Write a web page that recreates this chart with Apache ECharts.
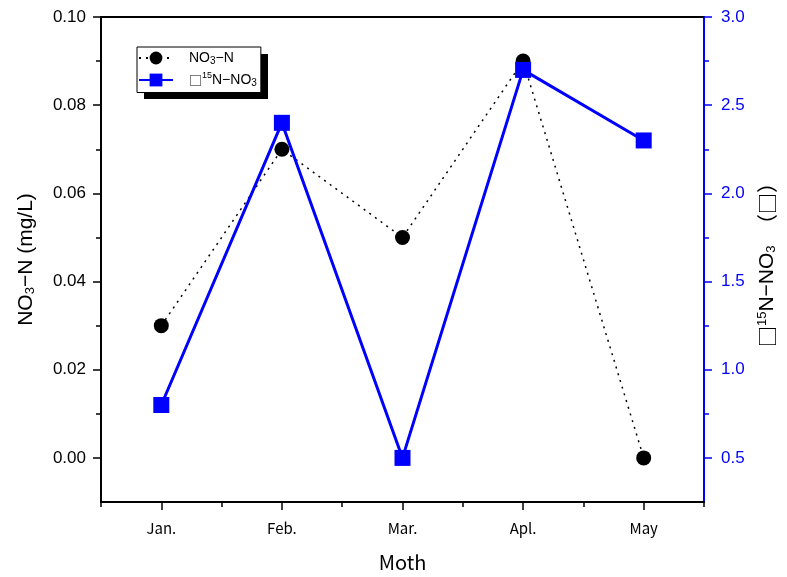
<!DOCTYPE html>
<html>
<head>
<meta charset="utf-8">
<script src="https://cdn.jsdelivr.net/npm/echarts@6/dist/echarts.min.js"></script>
<style>html,body{margin:0;padding:0;background:#fff}#c{width:787px;height:577px}</style>
</head>
<body>
<div id="c"></div>
<script>
var categories = ['Jan.', 'Feb.', 'Mar.', 'Apl.', 'May'];
var no3Values = [0.03, 0.07, 0.05, 0.09, 0.00];
var d15nValues = [0.8, 2.4, 0.5, 2.7, 2.3];
var leftMajorTicks = [0, 0.02, 0.04, 0.06, 0.08, 0.10];
var leftMinorTicks = [0.01, 0.03, 0.05, 0.07, 0.09];
var rightMajorTicks = [0.5, 1.0, 1.5, 2.0, 2.5, 3.0];
var rightMinorTicks = [0.75, 1.25, 1.75, 2.25, 2.75];

var chart = echarts.init(document.getElementById('c'));
var latin = 'Liberation Sans, Arial, sans-serif';
var jp = '"Noto Sans CJK JP", sans-serif';
var richBase = {
  a: {fontSize: 14, fontFamily: latin, color: '#000'},
  q: {fontSize: 13, fontFamily: jp, color: '#000'},
  s: {fontSize: 10, fontFamily: latin, color: '#000', verticalAlign: 'bottom', padding: [7, 0, 0, 0]},
  p: {fontSize: 9, fontFamily: latin, color: '#000', verticalAlign: 'top', padding: [0, 0, 5, 0]}
};
chart.setOption({
  animation: false,
  backgroundColor: '#fff',
  grid: {left: 101, right: 83, top: 17, bottom: 75, outerBoundsMode: 'none', containLabel: false},
  graphic: [{
    type: 'rect', z: 3, silent: true,
    shape: {x: 144, y: 54, width: 124, height: 45},
    style: {fill: '#000'}
  }],
  legend: {
    left: 137, top: 47, orient: 'vertical', z: 5,
    padding: [4, 4, 4, 1], itemGap: 5, itemWidth: 34, itemHeight: 16,
    backgroundColor: '#fff', borderColor: '#000', borderWidth: 1,
    data: ['NO3-N', 'd15N-NO3'],
    formatter: function (n) {
      if (n === 'NO3-N') return '{a|NO}{s|3}{a|\u2212N}';
      return '{q|\u25A1}{p|15}{a|N\u2212NO}{s|3}';
    },
    textStyle: {rich: richBase, padding: [0, 0, 0, 11]}
  },
  xAxis: [{
    type: 'category', data: categories, position: 'bottom',
    axisLine: {onZero: false, lineStyle: {color: '#000', width: 2}},
    axisTick: {show: true, alignWithLabel: true, length: 8, lineStyle: {color: '#000', width: 1.5}},
    axisLabel: {fontSize: 15, color: '#000', fontFamily: jp, margin: 19},
    name: 'Moth', nameLocation: 'middle', nameGap: 50,
    nameTextStyle: {fontSize: 20, color: '#000', fontFamily: jp},
    splitLine: {show: false}
  }, {
    type: 'category', data: categories, position: 'bottom',
    axisLine: {show: false, onZero: false},
    axisTick: {show: true, alignWithLabel: false, length: 5, lineStyle: {color: '#000', width: 1.5}},
    axisLabel: {show: false}, splitLine: {show: false}
  }, {
    type: 'category', data: categories, position: 'top',
    axisLine: {onZero: false, lineStyle: {color: '#000', width: 2}},
    axisTick: {show: false}, axisLabel: {show: false}, splitLine: {show: false}
  }],
  yAxis: [{
    type: 'value', position: 'left', min: -0.01, max: 0.10,
    axisLine: {show: true, onZero: false, lineStyle: {color: '#000', width: 2}},
    axisTick: {show: true, length: 8, customValues: leftMajorTicks, lineStyle: {color: '#000', width: 1.5}},
    axisLabel: {customValues: leftMajorTicks, fontSize: 17, color: '#000', fontFamily: latin, margin: 15,
      formatter: function (v) { return v.toFixed(2); }},
    splitLine: {show: false},
    name: '{a|NO}{s|3}{a|\u2212N (mg/L)}', nameLocation: 'middle', nameGap: 64, nameRotate: 90,
    nameTextStyle: {rich: {
      a: {fontSize: 21, fontFamily: latin, color: '#000'},
      s: {fontSize: 13, fontFamily: latin, color: '#000', verticalAlign: 'bottom', padding: [9, 0, 0, 0]}
    }}
  }, {
    type: 'value', position: 'left', min: -0.01, max: 0.10,
    axisLine: {show: false, onZero: false},
    axisTick: {show: true, length: 5, customValues: leftMinorTicks, lineStyle: {color: '#000', width: 1.5}},
    axisLabel: {show: false}, splitLine: {show: false}
  }, {
    type: 'value', position: 'right', min: 0.25, max: 3.0,
    axisLine: {show: true, onZero: false, lineStyle: {color: '#0000ff', width: 2}},
    axisTick: {show: true, length: 8, customValues: rightMajorTicks, lineStyle: {color: '#0000ff', width: 1.5}},
    axisLabel: {customValues: rightMajorTicks, fontSize: 17, color: '#0000ff', fontFamily: latin, margin: 17,
      formatter: function (v) { return v.toFixed(1); }},
    splitLine: {show: false},
    name: '{a|\u25A1}{p|15}{b|N\u2212NO}{s|3}{a|\u3000\uFF08\u25A1\uFF09}', nameLocation: 'middle', nameGap: 52, nameRotate: 90,
    nameTextStyle: {rich: {
      a: {fontSize: 21, fontFamily: jp, color: '#000'},
      b: {fontSize: 21, fontFamily: latin, color: '#000'},
      p: {fontSize: 13, fontFamily: latin, color: '#000', verticalAlign: 'top', padding: [0, 0, 9, 0]},
      s: {fontSize: 13, fontFamily: latin, color: '#000', verticalAlign: 'bottom', padding: [9, 0, 0, 0]}
    }}
  }, {
    type: 'value', position: 'right', min: 0.25, max: 3.0,
    axisLine: {show: false, onZero: false},
    axisTick: {show: true, length: 5, customValues: rightMinorTicks, lineStyle: {color: '#0000ff', width: 1.5}},
    axisLabel: {show: false}, splitLine: {show: false}
  }],
  series: [{
    name: 'NO3-N', type: 'line', xAxisIndex: 0, yAxisIndex: 0, data: no3Values,
    symbol: 'circle', symbolSize: 15,
    itemStyle: {color: '#000'},
    lineStyle: {color: '#000', width: 1.5, type: [2, 5]}
  }, {
    name: 'd15N-NO3', type: 'line', xAxisIndex: 0, yAxisIndex: 2, data: d15nValues,
    symbol: 'rect', symbolSize: 16,
    itemStyle: {color: '#0000ff'},
    lineStyle: {color: '#0000ff', width: 3}
  }]
});
</script>
</body>
</html>
